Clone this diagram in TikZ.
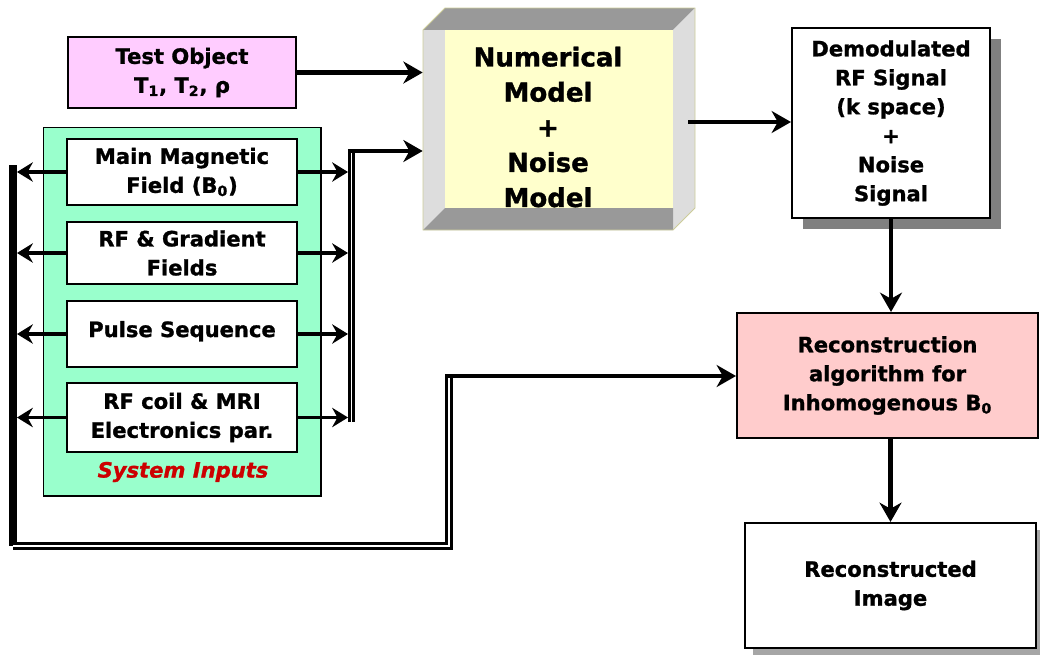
\documentclass[tikz,border=0pt]{standalone}
\usepackage{fontspec}
\setmainfont{DejaVu Sans}[BoldFeatures={FakeBold=1.2}, BoldItalicFeatures={FakeBold=1.2}]
\usetikzlibrary{arrows.meta,shadows}

\definecolor{testpink}{HTML}{FFCCFF}
\definecolor{inputgreen}{HTML}{99FFCC}
\definecolor{modelyellow}{HTML}{FFFFCC}
\definecolor{recpink}{HTML}{FFCCCC}
\definecolor{facedark}{HTML}{999999}
\definecolor{facelight}{HTML}{DDDDDD}
\definecolor{edgekhaki}{HTML}{CCCC99}
\definecolor{labelred}{HTML}{CC0000}
\definecolor{demodshadow}{HTML}{808080}
\definecolor{imgshadow}{HTML}{A6A6A6}

\tikzset{
  block/.style={draw, line width=1.2pt, align=center, inner sep=0pt,
    font=\fontsize{12}{16.5}\selectfont\bfseries},
  inbox/.style={block, fill=white, minimum width=4.6cm},
  arr/.style={-{Stealth[length=11pt,width=12.5pt,inset=3.5pt]}, line width=2.6pt},
  arrsmall/.style={-{Stealth[length=9pt,width=11pt,inset=3pt]}, line width=2.2pt},
  bar/.style={line width=4.2pt},
  bus/.style={double, line width=1.8pt, double distance=0.7pt},
}

\begin{document}
\begin{tikzpicture}[x=0.02cm, y=-0.02cm]
    \useasboundingbox (0,0) rectangle (1040,657);

    % Test object
    \node[block, fill=testpink, minimum width=4.56cm, minimum height=1.42cm] (test) at (182,72.5)
        {Test Object\\T\textsubscript{1}, T\textsubscript{2}, ρ};

    % System inputs panel
    \node[draw, line width=0.6pt, fill=inputgreen, minimum width=5.56cm, minimum height=7.38cm] (inputs) at (182,311.5) {};
    \node[inbox, minimum height=1.32cm] (field) at (182,172) {Main Magnetic\\Field (B\textsubscript{0})};
    \node[inbox, minimum height=1.24cm] (grad) at (182,253) {RF \& Gradient\\Fields};
    \node[inbox, minimum height=1.32cm, text depth=0.2cm] (pulse) at (182,334) {Pulse Sequence};
    \node[inbox, minimum height=1.38cm] (coil) at (182,417.5) {RF coil \& MRI\\Electronics par.};
    \node[font=\fontsize{12}{14}\selectfont\bfseries\itshape, text=labelred] (inlabel) at (183,472) {System Inputs};

    % Numerical model block (box drawn by hand)
    \fill[facedark] (423,30) -- (445,8) -- (695,8) -- (673,30) -- cycle;
    \fill[facelight] (673,30) -- (695,8) -- (695,208) -- (673,230) -- cycle;
    \fill[facelight] (423,30) rectangle (673,230);
    \fill[facedark] (423,230) -- (445,208) -- (673,208) -- (673,230) -- cycle;
    \fill[modelyellow] (445,30) rectangle (673,208);
    \draw[edgekhaki, line width=0.5pt] (423,30) -- (445,8) -- (695,8) -- (695,208) -- (673,230) -- (423,230) -- cycle;
    \node[align=center, inner sep=0pt, minimum width=5cm, minimum height=4cm,
        font=\fontsize{14.8}{20}\selectfont\bfseries] (model) at (548,127)
        {Numerical\\Model\\+\\Noise\\Model};

    % Output side
    \node[block, fill=white, minimum width=3.96cm, minimum height=3.8cm,
        drop shadow={shadow xshift=0.22cm, shadow yshift=-0.22cm, fill=demodshadow, opacity=1}] (demod) at (891,123)
        {Demodulated\\RF Signal\\(k space)\\+\\Noise\\Signal};
    \node[block, fill=recpink, minimum width=6.02cm, minimum height=2.5cm] (recon) at (887.5,375.5)
        {Reconstruction\\algorithm for\\Inhomogenous B\textsubscript{0}};
    \node[block, fill=white, minimum width=5.82cm, minimum height=2.5cm,
        drop shadow={shadow xshift=0.16cm, shadow yshift=-0.14cm, fill=imgshadow, opacity=1}] (image) at (890.5,585.5)
        {Reconstructed\\Image};

    % Bus coordinates
    \coordinate (lbus) at (17,0);
    \coordinate (rbus) at (348,0);
    \coordinate (ltop) at (13,165);
    \coordinate (lbot) at (13,546);
    \coordinate (rtop) at (351.5,151);
    \coordinate (rbot) at (351.5,422);
    \coordinate (fb) at (449,376);
    \coordinate (mout) at (688,122);

    % Inputs fanned out to both buses
    \draw[arrsmall] (field.west) -- (field.west -| lbus);
    \draw[arrsmall] (grad.west) -- (grad.west -| lbus);
    \draw[arrsmall] (pulse.west) -- (pulse.west -| lbus);
    \draw[arrsmall] (coil.west) -- (coil.west -| lbus);
    \draw[arrsmall] (field.east) -- (field.east -| rbus);
    \draw[arrsmall] (grad.east) -- (grad.east -| rbus);
    \draw[arrsmall] (pulse.east) -- (pulse.east -| rbus);
    \draw[arrsmall] (coil.east) -- (coil.east -| rbus);

    % Right bus into the model
    \draw[bus] (rbot) -- ([yshift=-1pt]rtop);
    \draw[arr] ([xshift=-2pt]rtop) -- (rtop -| model.west);

    % Left bus round to the reconstruction
    \draw[bar] (ltop) -- (lbot);
    \draw[bus] (lbot) -| ([yshift=1pt]fb);
    \draw[arr] ([xshift=-2.2pt]fb) -- (fb -| recon.west);

    % Main flow
    \draw[arr] (test.east) -- (test.east -| model.west);
    \draw[arr] (mout) -- (mout -| demod.west);
    \draw[arr] (demod.south) -- (demod.south |- recon.north);
    \draw[arr] (image.north |- recon.south) -- (image.north);
\end{tikzpicture}
\end{document}
